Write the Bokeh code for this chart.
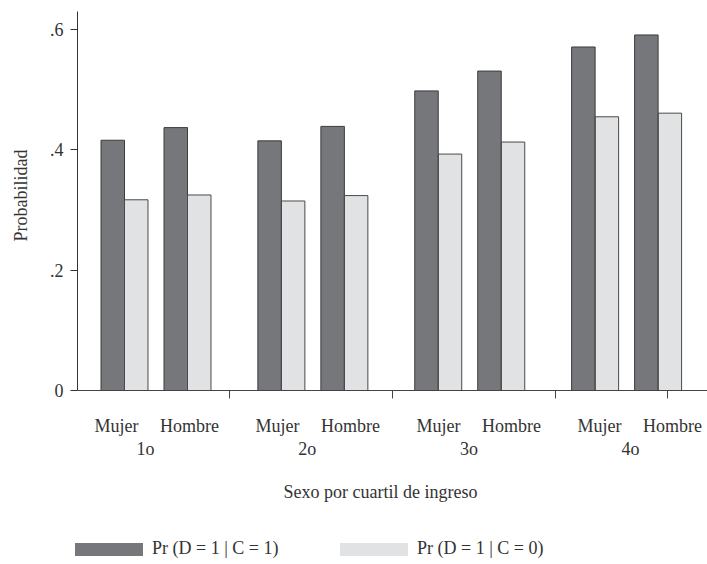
import math
from bokeh.plotting import figure
from bokeh.models import (ColumnDataSource, LabelSet, Label, Legend, LegendItem,
                          FixedTicker, Range1d)
from bokeh.embed import file_html
from bokeh.resources import INLINE

# ---- data ----
quartiles = ["1o", "2o", "3o", "4o"]
sexes = ["Mujer", "Hombre"]
# Pr(D=1 | C=1), order: 1o Mujer, 1o Hombre, 2o Mujer, ...
pr_c1 = [0.416, 0.437, 0.415, 0.439, 0.498, 0.531, 0.571, 0.591]
# Pr(D=1 | C=0)
pr_c0 = [0.317, 0.325, 0.315, 0.324, 0.393, 0.413, 0.455, 0.461]
y_ticks = [0, 0.2, 0.4, 0.6]
y_tick_labels = ["0", ".2", ".4", ".6"]
series_names = ["Pr (D = 1 | C = 1)", "Pr (D = 1 | C = 0)"]
x_title = "Sexo por cuartil de ingreso"
y_title = "Probabilidad"

# ---- layout constants ----
GROUP_STEP = 2.49
BAR_W = 0.373
FONT = "Liberation Serif"
TXT = "#333333"
DARK = "#76777b"
LIGHT = "#e1e2e4"
W, H = 707, 564
PXX = 63.0                 # pixels per x unit
PX = 601.6                 # pixels per probability unit
ZERO_Y = 390               # pixel row of y = 0
FIRST_X = 124              # pixel column of the first pair centre
AXIS_TOP = 0.63
X_MIN = -FIRST_X / PXX
X_MAX = (W - FIRST_X) / PXX
Y_MAX = ZERO_Y / PX
Y_MIN = -(H - ZERO_Y) / PX
Y_AXIS_X = (77 - FIRST_X) / PXX
# text grid (labels are spaced slightly wider than the bars)
LAB_X0, LAB_STEP, LAB_SUB = -8 / PXX, 161 / PXX, 73 / PXX
GLAB_X0, GLAB_STEP = 21 / PXX, 161.7 / PXX

centers = []
lab_x = []
cat_labels = []
for gi, q in enumerate(quartiles):
    for si, s in enumerate(sexes):
        centers.append(gi * GROUP_STEP + si * 1.0)
        lab_x.append(LAB_X0 + gi * LAB_STEP + si * LAB_SUB)
        cat_labels.append(s)
group_lab_x = [GLAB_X0 + gi * GLAB_STEP for gi in range(len(quartiles))]
x_ticks = [1.667, 4.254, 6.841, 8.619]

src = ColumnDataSource(dict(
    x1=[c - BAR_W / 2 for c in centers],
    x0=[c + BAR_W / 2 for c in centers],
    c1=pr_c1, c0=pr_c0,
    xl=lab_x, lab=cat_labels,
    ylab=[-41 / PX] * len(centers),
))
gsrc = ColumnDataSource(dict(x=group_lab_x, lab=quartiles,
                             y=[-64 / PX] * len(quartiles)))

p = figure(width=W, height=H, output_backend="svg", toolbar_location=None,
           x_range=Range1d(X_MIN, X_MAX), y_range=Range1d(Y_MIN, Y_MAX),
           min_border_left=0, min_border_right=0, min_border_top=0,
           min_border_bottom=0)
p.outline_line_color = None
p.grid.visible = False
p.background_fill_color = "white"

# bar fills (used by the legend) and bar outlines
r1 = p.vbar(x="x1", width=BAR_W, top="c1", bottom=0, source=src,
            fill_color=DARK, line_color=None)
r0 = p.vbar(x="x0", width=BAR_W, top="c0", bottom=0, source=src,
            fill_color=LIGHT, line_color=None)
p.vbar(x="x1", width=BAR_W, top="c1", bottom=0, source=src,
       fill_color=None, line_color="#3c3c3c", line_width=1)
p.vbar(x="x0", width=BAR_W, top="c0", bottom=0, source=src,
       fill_color=None, line_color="#4a4a4a", line_width=1)

# y axis, drawn inside the frame
ya = p.yaxis[0]
ya.fixed_location = Y_AXIS_X
ya.bounds = (0, AXIS_TOP)
ya.ticker = FixedTicker(ticks=y_ticks)
ya.major_label_overrides = {t: l for t, l in zip(y_ticks, y_tick_labels)}
ya.axis_label = None
ya.major_label_text_font = FONT
ya.major_label_text_font_size = "18px"
ya.major_label_text_color = TXT
ya.major_label_standoff = 7
ya.major_tick_out = 7
ya.major_tick_in = 0
ya.minor_tick_out = 0
ya.minor_tick_in = 0
ya.axis_line_color = "#333333"
ya.major_tick_line_color = "#333333"

# x axis, drawn at y = 0 inside the frame
xa = p.xaxis[0]
xa.fixed_location = 0
xa.bounds = (Y_AXIS_X, X_MAX)
xa.ticker = FixedTicker(ticks=x_ticks)
xa.major_label_overrides = {t: "" for t in x_ticks}
xa.major_label_text_font_size = "1px"
xa.major_tick_out = 8
xa.major_tick_in = 0
xa.minor_tick_out = 0
xa.minor_tick_in = 0
xa.axis_line_color = "#444444"
xa.major_tick_line_color = "#444444"
xa.axis_label = None

labs = LabelSet(x="xl", y="ylab", text="lab", source=src, text_align="center",
                text_baseline="alphabetic", text_font=FONT,
                text_font_size="18px", text_color=TXT)
glabs = LabelSet(x="x", y="y", text="lab", source=gsrc, text_align="center",
                 text_baseline="alphabetic", text_font=FONT,
                 text_font_size="18px", text_color=TXT)
p.add_layout(labs)
p.add_layout(glabs)

xt = Label(x=(380 - FIRST_X) / PXX, y=-101 / PX,
           text=x_title, text_align="center",
           text_baseline="alphabetic", text_font=FONT, text_font_size="18px",
           text_color=TXT)
p.add_layout(xt)

yt = Label(x=Y_AXIS_X - 57 / PXX, y=(ZERO_Y - 195) / PX, text=y_title,
           angle=math.pi / 2, text_align="center", text_baseline="middle",
           text_font=FONT, text_font_size="18px", text_color=TXT)
p.add_layout(yt)

# legend swatches: Bokeh insets area glyphs by 10 % on each side
legend = Legend(items=[LegendItem(label=series_names[0], renderers=[r1]),
                       LegendItem(label=series_names[1], renderers=[r0])],
                orientation="horizontal", location=(66, 5),
                glyph_width=85, glyph_height=16, label_standoff=1,
                label_width=179, spacing=0, padding=0, margin=0,
                border_line_alpha=0, background_fill_alpha=0,
                label_text_font=FONT, label_text_font_size="18px",
                label_text_color=TXT)
p.add_layout(legend, "center")

open("out.html", "w").write(file_html(p, INLINE))
